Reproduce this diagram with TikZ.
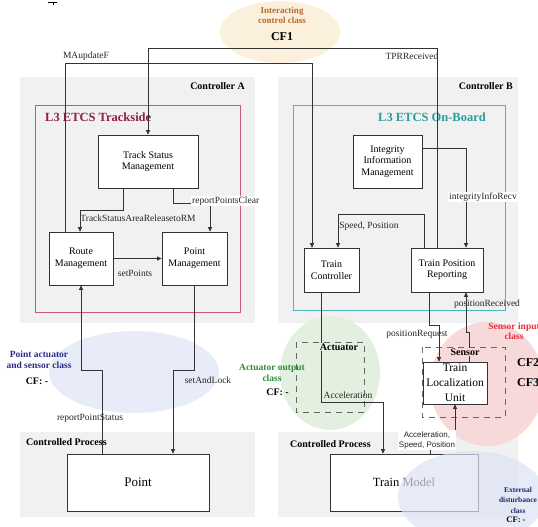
\documentclass[tikz,border=0pt]{standalone}
\usepackage{fontspec}
\setmainfont{Liberation Serif}
\newfontfamily\lsans{Liberation Sans}
\usetikzlibrary{arrows.meta}
\definecolor{bggray}{HTML}{F1F1F1}
\definecolor{linec}{HTML}{333333}
\definecolor{trackc}{HTML}{C9587E}
\definecolor{tracktitle}{HTML}{8E1C4C}
\definecolor{boardc}{HTML}{52B5B5}
\definecolor{boardtitle}{HTML}{2A9C9C}
\definecolor{interfill}{HTML}{FBF0DC}
\definecolor{intertext}{HTML}{B8682A}
\definecolor{pointfill}{HTML}{E7ECF8}
\definecolor{pointtext}{HTML}{2B2B8A}
\definecolor{actfill}{HTML}{E3F0E0}
\definecolor{acttext}{HTML}{2E8B3A}
\definecolor{sensfill}{HTML}{F8D9D9}
\definecolor{senstext}{HTML}{E0303F}
\definecolor{extfill}{HTML}{DCE3F4}
\definecolor{exttext}{HTML}{1F2A6E}
\begin{document}
\begin{tikzpicture}[x=1pt,y=-1pt,
  box/.style={draw=linec, fill=white, line width=0.7pt, align=center, inner sep=0pt,
    font=\fontsize{10}{11.5}\selectfont},
  flow/.style={draw=linec, line width=0.7pt, -{Triangle[length=4.5pt,width=4pt]}},
  plain/.style={draw=linec, line width=0.7pt},
  lbl/.style={font=\fontsize{9.5}{11}\selectfont, inner sep=1pt, text=black!85},
  grp/.style={font=\bfseries\fontsize{10}{12}\selectfont, inner sep=0pt},
  dbox/.style={draw=black!60, line width=0.8pt, dash pattern=on 6pt off 5pt},
  cls/.style={font=\bfseries\fontsize{9}{10}\selectfont, align=center, inner sep=0pt}
]
\useasboundingbox (0,0) rectangle (538,527);
% cut-off glyph at the top edge
\draw[black, line width=0.8pt] (48,2) -- (57,2) (53,2) -- (53,5.5);
% gray group backgrounds
\fill[bggray] (20,77) rectangle (255,323);
\fill[bggray] (278,77) rectangle (518,323);
\fill[bggray] (20,432) rectangle (255,517);
\fill[bggray] (278,432) rectangle (518,517);
% class ellipses
\fill[interfill] (280,32) ellipse [x radius=60, y radius=31];
\fill[pointfill] (134,372) ellipse [x radius=85, y radius=41];
\fill[actfill] (330,373) ellipse [x radius=50, y radius=57];
\fill[sensfill] (487,384) ellipse [x radius=57, y radius=62];
% subsystem frames
\draw[trackc, line width=0.8pt] (35,105) rectangle (240,312);
\draw[boardc, line width=0.8pt] (293,105) rectangle (505,310);
\node[anchor=west, text=tracktitle, font=\bfseries\fontsize{12.5}{14}\selectfont, inner sep=0pt] (ttl1) at (45,117) {L3 ETCS Trackside};
\node[text=boardtitle, font=\bfseries\fontsize{12.5}{14}\selectfont, inner sep=0pt] (ttl2) at (432,117) {L3 ETCS On-Board};
\node[grp, anchor=east] (ctra) at (245,86) {Controller A};
\node[grp, anchor=east] (ctrb) at (513,86) {Controller B};
\node[grp, anchor=west] (cpa) at (26,442) {Controlled Process};
\node[grp, anchor=west] (cpb) at (290,444) {Controlled Process};
% dashed actuator / sensor frames
\draw[dbox] (296,342) rectangle (364,412);
\draw[dbox] (422,347) rectangle (505,417);
% boxes
\node[box, minimum width=100, minimum height=53] (tsm) at (148,161.5) {Track Status\\Management};
\node[box, minimum width=64, minimum height=53] (rm) at (81,258.5) {Route\\Management};
\node[box, minimum width=65, minimum height=53] (pm) at (194.5,258.5) {Point\\Management};
\node[box, minimum width=69, minimum height=53] (iim) at (387.5,161.5) {Integrity\\Information\\Management};
\node[box, minimum width=55, minimum height=44] (tc) at (331.5,270) {Train\\Controller};
\node[box, minimum width=72, minimum height=44] (tpr) at (447,270) {Train Position\\Reporting};
\node[box, minimum width=64, minimum height=42, font=\fontsize{11.5}{15}\selectfont] (tlu) at (455,383) {Train\\Localization\\Unit};
\node[box, minimum width=142, minimum height=57, font=\fontsize{13}{15}\selectfont] (pt) at (138,482.5) {Point};
\node[box, minimum width=148, minimum height=57, font=\fontsize{12.5}{15}\selectfont] (tm) at (404,482.5) {Train Model};
% connectors
\draw[flow] ([xshift=-16]rm.north) -- (65,63) -- (312,63) -- ([xshift=-19.5]tc.north);
\node[lbl] (l1) at (86,56) {MAupdateF};
\draw[flow] ([xshift=-10]tpr.north) -- (437,48) -- (148,48) -- (tsm.north);
\node[lbl] (l2) at (412,56) {TPRReceived};
\draw[flow] ([xshift=-25]tsm.south) -- (123,210) -- (80,210) -- ([xshift=-1]rm.north);
\node[lbl] (l3) at (138,218) {TrackStatusAreaReleasetoRM};
\draw[flow] ([xshift=25]tsm.south) -- (173,203) -- (210,203) -- ([xshift=15.5]pm.north);
\node[lbl, anchor=west, fill=white] (l4) at (191,201) {reportPointsClear};
\draw[flow] (rm.east) -- (pm.west);
\node[lbl] (l5) at (135,273) {setPoints};
\draw[flow] ([xshift=-36]pt.north) -- (102,370) -- (81,370) -- (rm.south);
\node[lbl] (l6) at (90,418) {reportPointStatus};
\draw[flow] (pm.south) -- (194.5,370) -- (173,370) -- ([xshift=35]pt.north);
\node[lbl] (l7) at (208,380) {setAndLock};
\draw[flow] ([yshift=13.5]iim.east) -- (466,148) -- ([xshift=19]tpr.north);
\node[lbl, fill=white] (l8) at (483,197) {integrityInfoRecv};
\draw[flow] ([xshift=-23]tpr.north) -- (424,214) -- (338,214) -- ([xshift=6.5]tc.north);
\node[lbl] (l9) at (369,226) {Speed, Position};
\draw[flow] ([xshift=14]tlu.north) -- (469,332) -- (466,332) -- ([xshift=19]tpr.south);
\node[lbl] (l10) at (487,304) {positionReceived};
\draw[flow] ([xshift=-18]tpr.south) -- (429,325) -- (439,325) -- ([xshift=-16]tlu.north);
\node[lbl] (l11) at (417,334) {positionRequest};
\draw[flow] ([xshift=-10.5]tc.south) -- (321,402) -- (383,402) -- ([xshift=-21]tm.north);
\node[lbl] (l12) at (348,395) {Acceleration};
\draw[flow] ([xshift=26]tm.north) -- (430,438) -- (455,438) -- (tlu.south);
\node[lbl, fill=white, align=center, font=\lsans\fontsize{8}{10}\selectfont] (l13) at (427,440) {Acceleration,\\Speed, Position};
% dashed frame titles
\node[grp, fill=actfill, inner sep=1pt] (act) at (339,347) {Actuator};
\node[grp, fill=sensfill, inner sep=1pt] (sen) at (465,352) {Sensor};
% external disturbance ellipse (over the train model)
\fill[extfill, fill opacity=0.7] (472,497) ellipse [x radius=74, y radius=46];
% class labels
\node[cls, text=intertext] (c1) at (282,15) {Interacting\\control class};
\node[font=\bfseries\fontsize{12}{14}\selectfont, inner sep=0pt] (cf1) at (282,37) {CF1};
\node[cls, text=pointtext, font=\bfseries\fontsize{9.5}{11}\selectfont] (c2) at (39,360) {Point actuator\\and sensor class};
\node[font=\bfseries\fontsize{10}{12}\selectfont, inner sep=0pt] (cf2a) at (37,381) {CF: -};
\node[cls, text=acttext, font=\bfseries\fontsize{9.5}{10.5}\selectfont] (c3) at (272,373) {Actuator output\\class};
\node[font=\bfseries\fontsize{10}{12}\selectfont, inner sep=0pt, anchor=east] (cf3a) at (289,392) {CF: -};
\node[cls, text=senstext, font=\bfseries\fontsize{9.5}{9.5}\selectfont] (c4) at (514,331) {Sensor input\\class};
\node[font=\bfseries\fontsize{12}{14}\selectfont, inner sep=0pt, anchor=west] (cfx2) at (517,363) {CF2};
\node[font=\bfseries\fontsize{12}{14}\selectfont, inner sep=0pt, anchor=west] (cfx3) at (517,383) {CF3};
\node[cls, text=exttext, font=\bfseries\fontsize{7.5}{10.5}\selectfont] (c5) at (518,500) {External\\disturbance\\class};
\node[font=\bfseries\fontsize{8.5}{11}\selectfont, inner sep=0pt] (cf5) at (516,520) {CF: -};
\end{tikzpicture}
\end{document}
